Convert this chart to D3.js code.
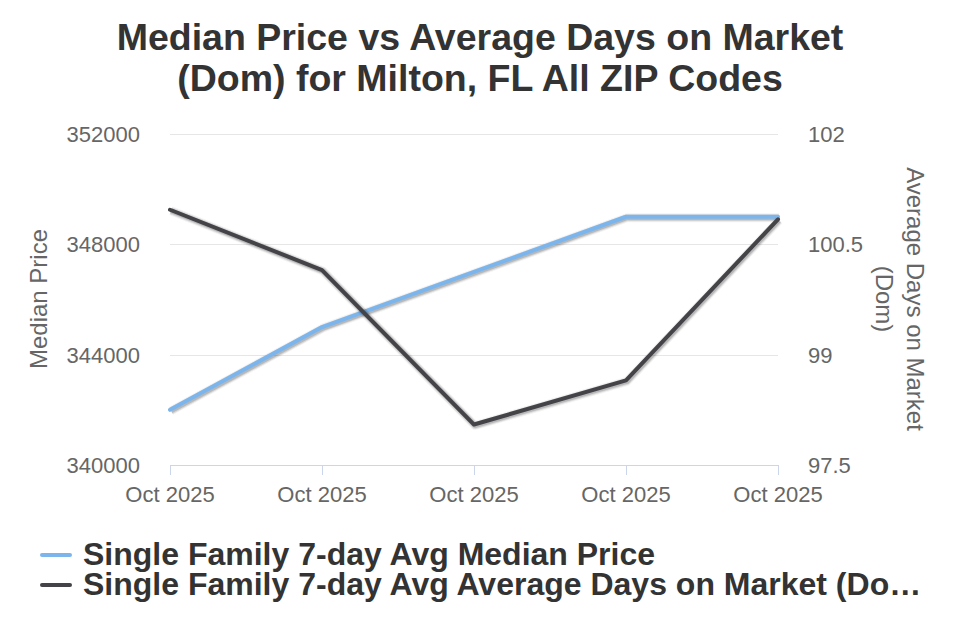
<!DOCTYPE html>
<html>
<head>
<meta charset="utf-8">
<script src="https://cdn.jsdelivr.net/npm/d3@7"></script>
<style>
  body { margin: 0; background: #fff; }
  text { font-family: "Liberation Sans", Arial, sans-serif; }
</style>
</head>
<body>
<div id="chart"></div>
<script>
// chart values
var categories = ["Oct 2025", "Oct 2025", "Oct 2025", "Oct 2025", "Oct 2025"];
var medianPrice = [342000, 345000, 347000, 349000, 349000];
var avgDom = [100.97, 100.15, 98.05, 98.65, 100.84];
var priceTicks = [340000, 344000, 348000, 352000];
var domTicks = [97.5, 99, 100.5, 102];
var seriesNames = ["Single Family 7-day Avg Median Price",
  "Single Family 7-day Avg Average Days on Market (Dom)"];
var seriesColors = ["#7cb5ec", "#434348"];

var W = 960, H = 640;
var plotL = 170, plotR = 778, plotT = 134, plotB = 465;

var svg = d3.select("#chart").append("svg")
  .attr("width", W).attr("height", H);

// title
var title = svg.append("text")
  .attr("text-anchor", "middle")
  .attr("fill", "#333333")
  .style("font-size", "37.5px")
  .style("font-weight", "bold");
title.append("tspan").attr("x", W / 2).attr("y", 50).text("Median Price vs Average Days on Market");
title.append("tspan").attr("x", W / 2).attr("y", 91).text("(Dom) for Milton, FL All ZIP Codes");

// scales
var x = d3.scalePoint()
  .domain(d3.range(categories.length))
  .range([plotL, plotR]);
var yPrice = d3.scaleLinear().domain([340000, 352000]).range([plotB, plotT]);
var yDom = d3.scaleLinear().domain([97.5, 102]).range([plotB, plotT]);

// gridlines
svg.append("g").selectAll("line")
  .data(priceTicks.filter(function(d) { return d !== 340000; }))
  .enter().append("line")
  .attr("x1", plotL).attr("x2", plotR)
  .attr("y1", function(d) { return Math.round(yPrice(d)) + 0.5; })
  .attr("y2", function(d) { return Math.round(yPrice(d)) + 0.5; })
  .attr("stroke", "#e6e6e6").attr("stroke-width", 1);

// left axis labels
svg.append("g").selectAll("text")
  .data(priceTicks).enter().append("text")
  .attr("x", 140)
  .attr("y", function(d) { return yPrice(d) + 8; })
  .attr("text-anchor", "end")
  .attr("fill", "#666666")
  .style("font-size", "22px")
  .text(function(d) { return d; });

// right axis labels
svg.append("g").selectAll("text")
  .data(domTicks).enter().append("text")
  .attr("x", 808)
  .attr("y", function(d) { return yDom(d) + 8; })
  .attr("text-anchor", "start")
  .attr("fill", "#666666")
  .style("font-size", "22px")
  .text(function(d) { return d; });

// axis titles
svg.append("text")
  .attr("transform", "translate(47,299) rotate(-90)")
  .attr("text-anchor", "middle")
  .attr("fill", "#666666")
  .style("font-size", "24px")
  .text("Median Price");

var rt = svg.append("text")
  .attr("transform", "translate(907,299) rotate(90)")
  .attr("text-anchor", "middle")
  .attr("fill", "#666666")
  .style("font-size", "24px");
rt.append("tspan").attr("x", 0).attr("y", 0).text("Average Days on Market");
rt.append("tspan").attr("x", 0).attr("y", 31).text("(Dom)");

// x axis
var xAxis = svg.append("g");
xAxis.append("line")
  .attr("x1", plotL).attr("x2", plotR + 1)
  .attr("y1", plotB + 0.5).attr("y2", plotB + 0.5)
  .attr("stroke", "#ccd6eb");
xAxis.selectAll("line.tick")
  .data(d3.range(categories.length)).enter().append("line")
  .attr("class", "tick")
  .attr("x1", function(d) { return Math.round(x(d)) + 0.5; })
  .attr("x2", function(d) { return Math.round(x(d)) + 0.5; })
  .attr("y1", plotB).attr("y2", plotB + 10)
  .attr("stroke", "#ccd6eb");
xAxis.selectAll("text")
  .data(d3.range(categories.length)).enter().append("text")
  .attr("x", function(d) { return x(d); })
  .attr("y", 502)
  .attr("text-anchor", "middle")
  .attr("fill", "#666666")
  .style("font-size", "22px")
  .text(function(d) { return categories[d]; });

// lines
var lineP = d3.line()
  .x(function(d, i) { return x(i); })
  .y(function(d) { return yPrice(d); });
var lineD = d3.line()
  .x(function(d, i) { return x(i); })
  .y(function(d) { return yDom(d); });

function drawSeries(data, gen, color) {
  var g = svg.append("g");
  [[5, 0.05], [3, 0.1], [1, 0.15]].forEach(function(s) {
    g.append("path")
      .attr("d", gen(data))
      .attr("transform", "translate(1,1)")
      .attr("fill", "none")
      .attr("stroke", "#000")
      .attr("stroke-opacity", s[1])
      .attr("stroke-width", 4 + s[0])
      .attr("stroke-linejoin", "round");
  });
  g.append("path")
    .attr("d", gen(data))
    .attr("fill", "none")
    .attr("stroke", color)
    .attr("stroke-width", 4)
    .attr("stroke-linejoin", "round")
    .attr("stroke-linecap", "round");
}
drawSeries(medianPrice, lineP, seriesColors[0]);
drawSeries(avgDom, lineD, seriesColors[1]);

// legend
var legend = svg.append("g");
seriesNames.forEach(function(name, i) {
  var yy = 555 + i * 30;
  legend.append("line")
    .attr("x1", 42).attr("x2", 70)
    .attr("y1", yy).attr("y2", yy)
    .attr("stroke", seriesColors[i])
    .attr("stroke-width", 4)
    .attr("stroke-linecap", "round");
  var t = legend.append("text")
    .attr("x", 83).attr("y", yy + 10)
    .attr("fill", "#333333")
    .style("font-size", "32px")
    .style("font-weight", "bold")
    .text(name);
  // truncate with ellipsis if it runs past the edge
  var maxW = 926 - 83, s = name;
  while (t.node().getComputedTextLength() > maxW && s.length > 1) {
    s = s.slice(0, -1);
    t.text(s + "\u2026");
  }
});
</script>
</body>
</html>
